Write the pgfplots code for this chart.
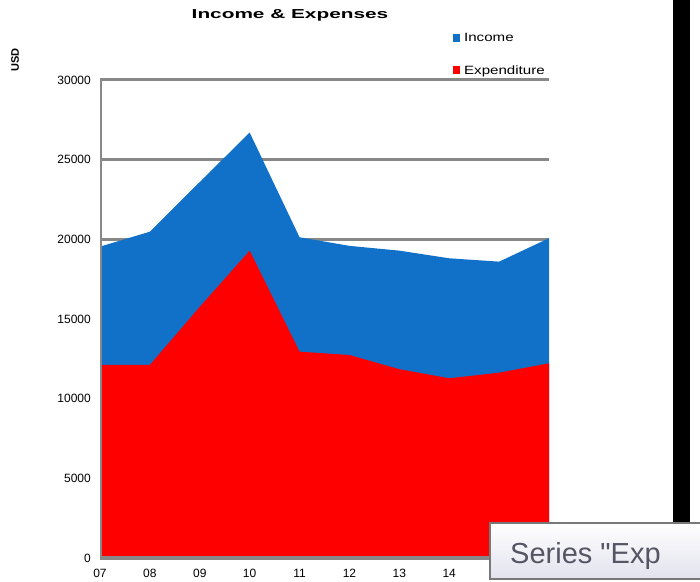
\documentclass[border=0pt]{standalone}
\usepackage{pgfplots}
\pgfplotsset{compat=1.18}
\usepackage{fontspec}
\setmainfont{Liberation Sans}
\newfontfamily\tipfont[Ligatures=TeXOff]{Liberation Sans}
\usepackage{graphicx}

\definecolor{incomeblue}{RGB}{17,112,200}
\definecolor{expred}{RGB}{255,0,0}
\definecolor{gridgray}{RGB}{136,136,136}
\definecolor{tiptext}{RGB}{85,85,100}
\definecolor{tipborder}{RGB}{120,120,120}
\definecolor{tipbottom}{RGB}{226,226,238}

\begin{document}
\begin{tikzpicture}[x=1pt,y=1pt]
\useasboundingbox (0,0) rectangle (700,581);

% chart title
\node at (290,566) {\fontsize{13}{15}\selectfont\bfseries\scalebox{1.6}[1]{Income \& Expenses}};
% vertical axis caption
\node[rotate=90] at (15,521) {\fontsize{11}{13}\selectfont\bfseries USD};

\begin{axis}[
  at={(100pt,23pt)}, anchor=south west,
  scale only axis, width=449pt, height=478pt,
  xmin=0, xmax=9, ymin=0, ymax=30000,
  xtick={0,...,9},
  xticklabels={07,08,09,10,11,12,13,14,15,16},
  ytick={0,5000,10000,15000,20000,25000,30000},
  ymajorgrids,
  major grid style={draw=gridgray, line width=3pt},
  axis x line*=bottom, axis y line*=left,
  axis line style={draw=none},
  major tick length=0pt,
  tick label style={font=\fontsize{12}{14}\selectfont, text=black},
  yticklabel style={anchor=east, inner sep=0pt, xshift=-9pt},
  xticklabel style={anchor=north, inner sep=0pt, yshift=-11pt},
  scaled y ticks=false,
  legend style={at={(axis description cs:0.786,1.0986)}, anchor=north west,
    draw=none, fill=none, inner sep=0pt, row sep=22.5pt,
    font=\fontsize{12}{14}\selectfont,
    nodes={inner sep=0pt}},
  legend cell align=left,
  legend image code/.code={\fill[#1] (0pt,-4pt) rectangle (7pt,4pt);},
  /pgf/number format/.cd, fixed, 1000 sep={}, assume math mode=true,
]
% income (drawn first, behind)
\addplot[fill=incomeblue, draw=none] coordinates {
  (0,19540) (1,20480) (2,23600) (3,26700) (4,20130)
  (5,19590) (6,19290) (7,18810) (8,18600) (9,20070)
} \closedcycle;
\addlegendentry{\hspace{4pt}\scalebox{1.26}[1]{Income}}
% expenditure
\addplot[fill=expred, draw=none] coordinates {
  (0,12120) (1,12120) (2,15760) (3,19290) (4,12950)
  (5,12740) (6,11850) (7,11280) (8,11630) (9,12220)
} \closedcycle;
\addlegendentry{\hspace{4pt}\scalebox{1.26}[1]{Expenditure}}
% axis lines on top of the areas
\draw[gridgray, line width=3.5pt] (axis cs:0,30000) -- (axis cs:0,0) -- (axis cs:9,0);
\end{axis}

% window edge and hover tooltip
\begin{scope}
\clip (0,0) rectangle (700,581);
\fill[black] (673,58) rectangle (690,581);
\shade[top color=white, bottom color=tipbottom, draw=tipborder, line width=2pt]
  (490,2) rectangle (720,58);
\node[anchor=base west, inner sep=0pt, text=tiptext] at (510,18)
  {\tipfont\fontsize{29}{32}\selectfont Series "Exp};
\end{scope}
\end{tikzpicture}
\end{document}
